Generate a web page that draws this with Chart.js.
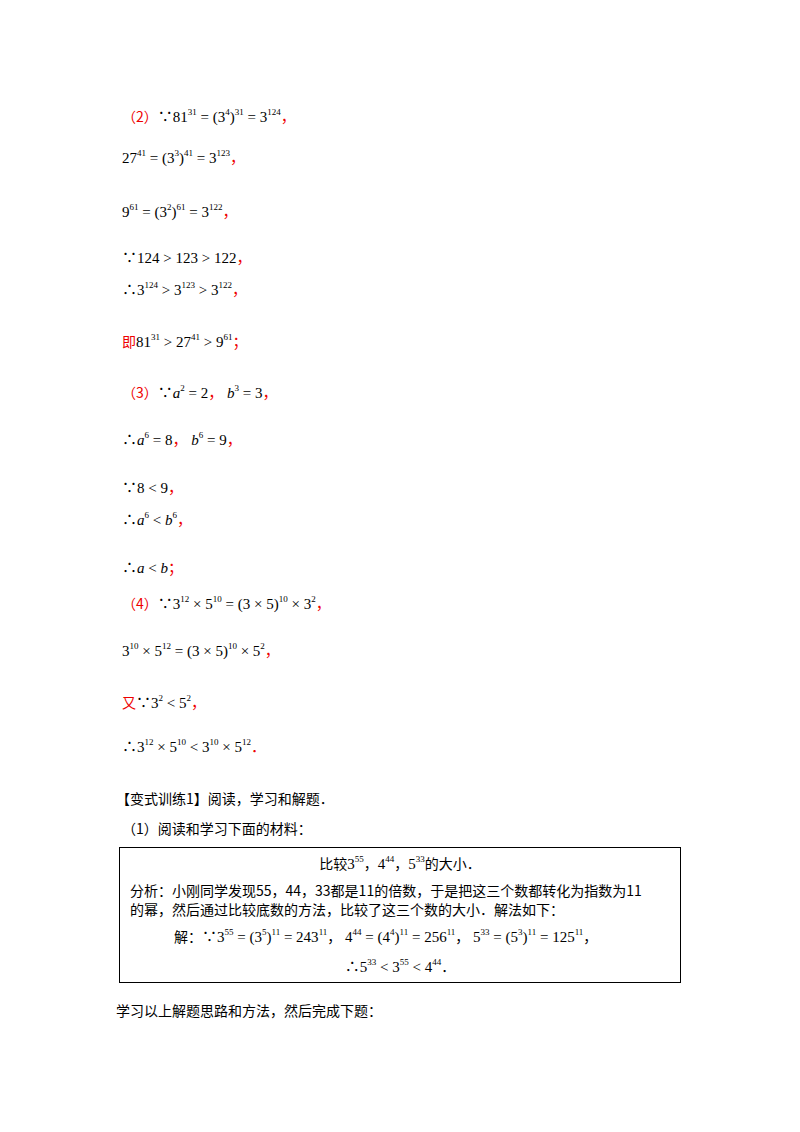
<!DOCTYPE html>
<html><head><meta charset="utf-8">
<script src="https://cdn.jsdelivr.net/npm/chart.js@4"></script>
<style>
body{margin:0;width:800px;height:1132px;background:#fff;position:relative;font-family:"Liberation Serif","Noto Sans CJK SC",serif;font-size:15px;color:#000}
.l{position:absolute;left:122px;white-space:nowrap;line-height:20px}
.r{color:#e00}
sup{font-size:9px;vertical-align:7px;line-height:0}
i{font-style:italic}
.cn{font-family:"Noto Sans CJK SC";font-size:14px}
#box{position:absolute;left:119px;top:847px;width:560px;height:134px;border:1px solid #000}
#box .l{left:0}
#bg{position:absolute;left:0;top:0;width:1px;height:1px;opacity:0}
</style></head><body>
<canvas id="bg"></canvas>
<div class="l" style="top:106px"><span class="r cn">（2）</span>∵81<sup>31</sup> = (3<sup>4</sup>)<sup>31</sup> = 3<sup>124</sup><span class="r">，</span></div>
<div class="l" style="top:148px">27<sup>41</sup> = (3<sup>3</sup>)<sup>41</sup> = 3<sup>123</sup><span class="r">，</span></div>
<div class="l" style="top:202px">9<sup>61</sup> = (3<sup>2</sup>)<sup>61</sup> = 3<sup>122</sup><span class="r">，</span></div>
<div class="l" style="top:248px">∵124 &gt; 123 &gt; 122<span class="r">，</span></div>
<div class="l" style="top:280px">∴3<sup>124</sup> &gt; 3<sup>123</sup> &gt; 3<sup>122</sup><span class="r">，</span></div>
<div class="l" style="top:331px"><span class="r cn">即</span>81<sup>31</sup> &gt; 27<sup>41</sup> &gt; 9<sup>61</sup><span class="r">；</span></div>
<div class="l" style="top:382px"><span class="r cn">（3）</span>∵<i>a</i><sup>2</sup> = 2<span class="r">，</span> <i>b</i><sup>3</sup> = 3<span class="r">，</span></div>
<div class="l" style="top:430px">∴<i>a</i><sup>6</sup> = 8<span class="r">，</span> <i>b</i><sup>6</sup> = 9<span class="r">，</span></div>
<div class="l" style="top:478px">∵8 &lt; 9<span class="r">，</span></div>
<div class="l" style="top:510px">∴<i>a</i><sup>6</sup> &lt; <i>b</i><sup>6</sup><span class="r">，</span></div>
<div class="l" style="top:558px">∴<i>a</i> &lt; <i>b</i><span class="r">；</span></div>
<div class="l" style="top:593px"><span class="r cn">（4）</span>∵3<sup>12</sup> × 5<sup>10</sup> = (3 × 5)<sup>10</sup> × 3<sup>2</sup><span class="r">，</span></div>
<div class="l" style="top:641px">3<sup>10</sup> × 5<sup>12</sup> = (3 × 5)<sup>10</sup> × 5<sup>2</sup><span class="r">，</span></div>
<div class="l" style="top:692px"><span class="r cn">又</span>∵3<sup>2</sup> &lt; 5<sup>2</sup><span class="r">，</span></div>
<div class="l" style="top:737px">∴3<sup>12</sup> × 5<sup>10</sup> &lt; 3<sup>10</sup> × 5<sup>12</sup><span class="r">．</span></div>
<div class="l cn" style="top:788px;left:116px">【变式训练1】阅读，学习和解题．</div>
<div class="l cn" style="top:818px">（1）阅读和学习下面的材料：</div>
<div id="box">
<div class="l" style="top:5px;width:560px;text-align:center"><span class="cn">比较</span>3<sup>55</sup><span class="cn">，</span>4<sup>44</sup><span class="cn">，</span>5<sup>33</sup><span class="cn">的大小．</span></div>
<div class="l cn" style="top:32px;left:10px">分析：小刚同学发现55，44，33都是11的倍数，于是把这三个数都转化为指数为11</div>
<div class="l cn" style="top:51px;left:10px">的幂，然后通过比较底数的方法，比较了这三个数的大小．解法如下：</div>
<div class="l" style="top:78px;left:54px"><span class="cn">解：</span>∵3<sup>55</sup> = (3<sup>5</sup>)<sup>11</sup> = 243<sup>11</sup><span class="cn">，</span> 4<sup>44</sup> = (4<sup>4</sup>)<sup>11</sup> = 256<sup>11</sup><span class="cn">，</span> 5<sup>33</sup> = (5<sup>3</sup>)<sup>11</sup> = 125<sup>11</sup><span class="cn">，</span></div>
<div class="l" style="top:108px;width:560px;text-align:center">∴5<sup>33</sup> &lt; 3<sup>55</sup> &lt; 4<sup>44</sup><span class="cn">．</span></div>
</div>
<div class="l cn" style="top:1000px;left:116px">学习以上解题思路和方法，然后完成下题：</div>
<script>
// the page holds no chart data; an empty chart keeps Chart.js present
new Chart(document.getElementById('bg'),{type:'bar',data:{labels:[],datasets:[]},options:{responsive:false,animation:false,plugins:{legend:{display:false}},scales:{x:{display:false},y:{display:false}}}});
</script>
</body></html>
